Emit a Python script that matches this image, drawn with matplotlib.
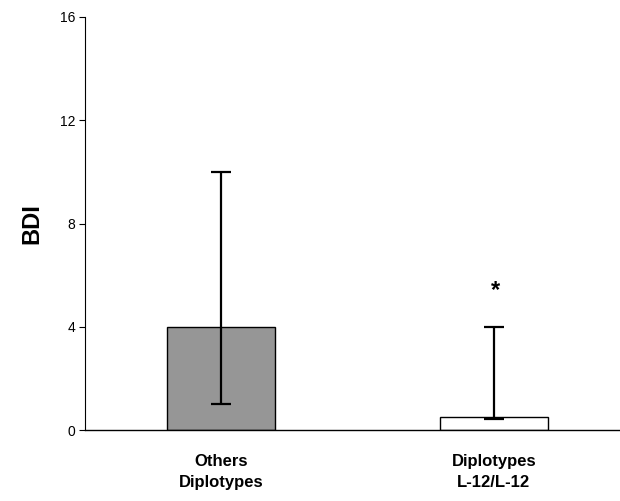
import matplotlib
matplotlib.use("Agg")
import matplotlib.pyplot as plt

categories = ["Others\nDiplotypes", "Diplotypes\nL-12/L-12"]
values = [4.0, 0.5]
err_low = [1.0, 0.43]
err_high = [10.0, 4.0]
bar_colors = ["#969696", "#ffffff"]
yticks = [0, 4, 8, 12, 16]
sig_marks = ["", "*"]
sig_y = [None, 4.95]

plt.rcParams['font.family'] = ['Liberation Sans', 'DejaVu Sans']

fig = plt.figure(figsize=(6.2, 5.01), dpi=100)
W, H = 620, 501
ax = fig.add_axes([85 / W, 71 / H, (620 - 85) / W, 413 / H])

x = list(range(len(categories)))
ax.bar(x, values, width=0.395, color=bar_colors, edgecolor="black", linewidth=1.0, zorder=2)
lower = [v - l for v, l in zip(values, err_low)]
upper = [h - v for v, h in zip(values, err_high)]
ax.errorbar(x, values, yerr=[lower, upper], fmt="none", ecolor="black",
            elinewidth=1.6, capsize=7.5, capthick=1.6, zorder=3)
for xi, m, yy in zip(x, sig_marks, sig_y):
    if m:
        ax.text(xi + 0.005, yy, m, ha="center", va="bottom", fontsize=17, fontweight="bold")

ax.set_xlim(-0.498, 1.462)
ax.set_ylim(0, 16)
ax.set_yticks(yticks)
ax.set_yticklabels([str(t) for t in yticks], fontsize=10)
ax.set_xticks(x)
ax.set_xticklabels(categories, fontsize=12, fontweight="bold", linespacing=1.55)
ax.tick_params(axis="x", length=0, pad=17)
ax.tick_params(axis="y", direction="out", length=4, width=0.8, pad=3)
for s in ["top", "right"]:
    ax.spines[s].set_visible(False)
ax.spines["left"].set_linewidth(0.8)
ax.spines["bottom"].set_linewidth(1.0)
ax.set_ylabel("BDI", fontsize=17, fontweight="bold", labelpad=12)

fig.savefig("out.png", dpi=100)
